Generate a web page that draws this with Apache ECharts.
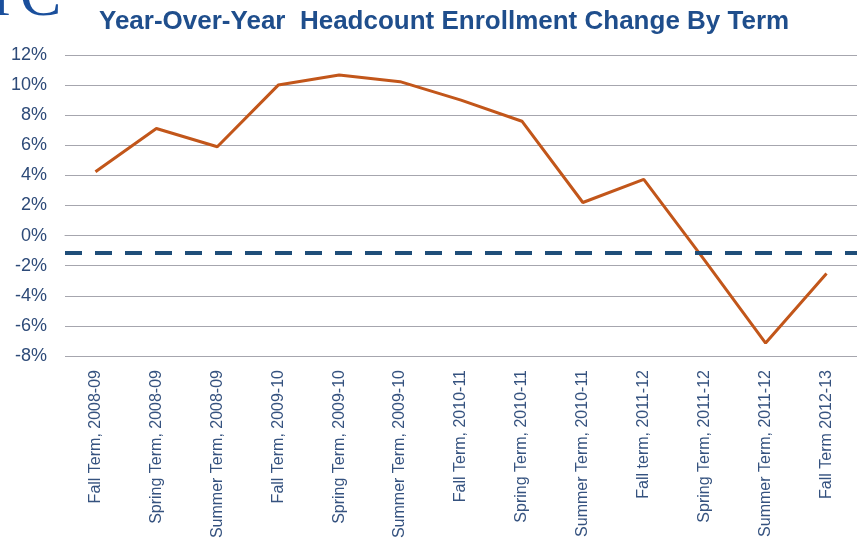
<!DOCTYPE html>
<html>
<head>
<meta charset="utf-8">
<script src="https://cdn.jsdelivr.net/npm/echarts@6/dist/echarts.min.js"></script>
<style>
html,body{margin:0;padding:0;background:#fff;}
#chart{width:857px;height:553px;}
</style>
</head>
<body>
<div id="chart"></div>
<script>
const categories = [
  "Fall Term, 2008-09", "Spring Term, 2008-09", "Summer Term, 2008-09",
  "Fall Term, 2009-10", "Spring Term, 2009-10", "Summer Term, 2009-10",
  "Fall Term, 2010-11", "Spring Term, 2010-11", "Summer Term, 2010-11",
  "Fall term, 2011-12", "Spring Term, 2011-12", "Summer Term, 2011-12",
  "Fall Term 2012-13"
];
const changePct = [4.24, 7.12, 5.9, 10.0, 10.67, 10.23, 9.0, 7.6, 2.2, 3.73, -1.65, -7.14, -2.52];
const referenceLine = -1.12;
const yMin = -8, yMax = 12, yStep = 2;
const titleText = "Year-Over-Year  Headcount Enrollment Change By Term";

const chart = echarts.init(document.getElementById('chart'), null, {renderer: 'canvas'});
chart.setOption({
  animation: false,
  backgroundColor: '#ffffff',
  title: {
    text: titleText,
    left: 94,
    top: 4,
    textStyle: {
      fontFamily: 'Liberation Sans, Arial, sans-serif',
      fontWeight: 'bold',
      fontSize: 26,
      color: '#1f4e8c'
    }
  },
  graphic: [{
    type: 'text',
    style: {
      x: -6, y: 30,
      text: 'r',
      verticalAlign: 'bottom',
      font: '62px "Liberation Serif", "DejaVu Serif", serif',
      fill: '#1a4f9c'
    }
  }, {
    type: 'text',
    style: {
      x: 20, y: 30,
      text: 'C',
      verticalAlign: 'bottom',
      font: '62px "Liberation Serif", "DejaVu Serif", serif',
      fill: '#1a4f9c'
    }
  }],
  grid: {left: 65, width: 801, top: 55, bottom: 197, containLabel: false},
  xAxis: {
    type: 'category',
    data: categories,
    boundaryGap: true,
    axisLine: {show: true, lineStyle: {color: '#a6a6ae', width: 1}},
    axisTick: {show: false},
    axisLabel: {
      rotate: 90,
      margin: 14,
      interval: 0,
      fontFamily: 'Liberation Sans, Arial, sans-serif',
      fontSize: 16,
      color: '#35527f'
    },
    splitLine: {show: false}
  },
  yAxis: {
    type: 'value',
    min: yMin, max: yMax, interval: yStep,
    axisLine: {show: false},
    axisTick: {show: false},
    axisLabel: {
      formatter: '{value}%',
      margin: 18,
      fontFamily: 'Liberation Sans, Arial, sans-serif',
      fontSize: 18,
      color: '#2d4a78'
    },
    splitLine: {show: true, lineStyle: {color: '#a6a6ae', width: 1}}
  },
  series: [{
    type: 'line',
    data: changePct,
    symbol: 'none',
    lineStyle: {color: '#c2561a', width: 3},
    itemStyle: {color: '#c2561a'},
    markLine: {
      silent: true,
      symbol: 'none',
      label: {show: false},
      lineStyle: {color: '#1f4e79', width: 4, type: [17, 13]},
      data: [{yAxis: referenceLine}]
    }
  }]
});
</script>
</body>
</html>
